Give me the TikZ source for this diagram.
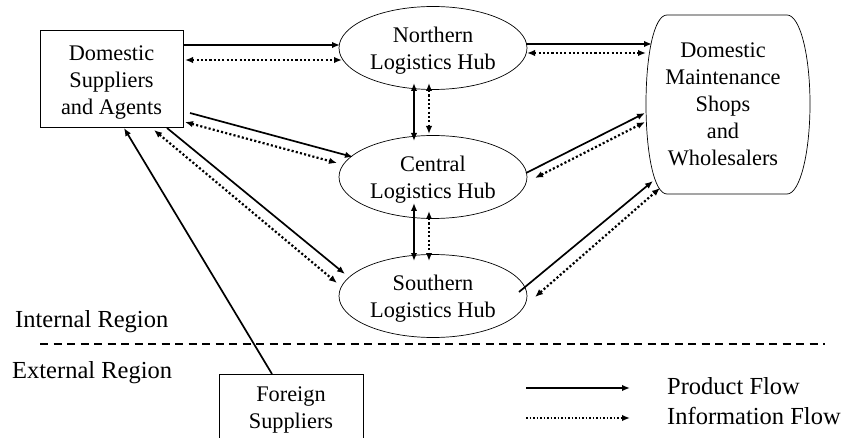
\documentclass[tikz,border=0pt]{standalone}
\usepackage{fontspec}
\setmainfont{Liberation Serif}
\usetikzlibrary{arrows.meta,shapes.geometric}
\tikzset{
  nodetext/.style={font=\fontsize{22.3}{27}\selectfont, align=center, text=black},
  labeltext/.style={font=\fontsize{24.5}{30}\selectfont, anchor=west, text=black, inner sep=0pt},
  boxnode/.style={nodetext, draw, line width=0.8pt, inner sep=0pt},
  hub/.style={nodetext, ellipse, draw, line width=0.7pt, inner sep=0pt,
              minimum width=188pt, minimum height=83pt},
  product/.style={line width=1.7pt, -{Latex[length=8pt,width=6.5pt]}},
  productboth/.style={line width=1.7pt, {Latex[length=8pt,width=6.5pt]}-{Latex[length=8pt,width=6.5pt]}},
  info/.style={line width=2.2pt, dash pattern=on 2.1pt off 2.2pt,
               {Latex[length=8pt,width=6.5pt]}-{Latex[length=8pt,width=6.5pt]}},
  infoone/.style={line width=2.2pt, dash pattern=on 2.1pt off 2.2pt,
               -{Latex[length=8pt,width=6.5pt]}},
}
\newcommand{\strutup}[1]{\rule{0pt}{#1}}
\begin{document}
\begin{tikzpicture}[x=1pt,y=-1pt]
\useasboundingbox (0,0) rectangle (845,438);

% nodes
\node[boxnode, minimum width=143pt, minimum height=97pt] (ds) at (111.5,78.5)
  {\strutup{23pt}Domestic\\Suppliers\\and Agents};
\node[hub] (nh) at (433,48) {\strutup{21pt}Northern\\Logistics Hub};
\node[hub] (ch) at (433,177) {\strutup{21pt}Central\\Logistics Hub};
\node[hub] (sh) at (433,296) {\strutup{21pt}Southern\\Logistics Hub};
\node[boxnode, minimum width=144pt, minimum height=72pt] (fs) at (291,410)
  {Foreign\\Suppliers};

% barrel-shaped outline of the maintenance shops
\draw[line width=0.7pt]
  (667,15) -- (787,15)
  .. controls (800,15) and (810,55) .. (810,104)
  .. controls (810,153) and (800,194) .. (787,194)
  -- (667,194)
  .. controls (654,194) and (646,153) .. (646,104)
  .. controls (646,55) and (654,15) .. (667,15) -- cycle;
\node[nodetext, inner sep=0pt] (dm) at (723,104)
  {Domestic\\Maintenance\\Shops\\and\\Wholesalers};

% suppliers <-> northern hub
\draw[product] ([shift={(71.5,-33.5)}]ds.center) -- ([shift={(-93,-3)}]nh.center);
\draw[info] ([shift={(73.5,-18.5)}]ds.center) -- ([shift={(-91,12)}]nh.center);
% northern hub <-> maintenance shops
\draw[product] ([shift={(93,-4)}]nh.center) -- ([shift={(-71,-60)}]dm.center);
\draw[info] ([shift={(94,5)}]nh.center) -- ([shift={(-77,-51)}]dm.center);
% hub to hub
\draw[productboth] ([shift={(-19,35)}]nh.center) -- ([shift={(-19,-36)}]ch.center);
\draw[info] ([shift={(-4,35)}]nh.center) -- ([shift={(-4,-43)}]ch.center);
\draw[productboth] ([shift={(-19,26)}]ch.center) -- ([shift={(-19,-35)}]sh.center);
\draw[info] ([shift={(-4,34)}]ch.center) -- ([shift={(-4,-35)}]sh.center);
% suppliers <-> central hub
\draw[product] ([shift={(78.5,34.5)}]ds.center) -- ([shift={(-80,-20)}]ch.center);
\draw[info] ([shift={(73.5,43.5)}]ds.center) -- ([shift={(-96,-14)}]ch.center);
% suppliers <-> southern hub
\draw[product] ([shift={(55.5,49.5)}]ds.center) -- ([shift={(-88,-22)}]sh.center);
\draw[info] ([shift={(42.5,51.5)}]ds.center) -- ([shift={(-96,-13)}]sh.center);
% foreign suppliers -> domestic suppliers
\draw[product] ([shift={(-19,-36)}]fs.center) -- ([shift={(12.5,49.5)}]ds.center);
% central hub <-> maintenance shops
\draw[product] ([shift={(93,-4)}]ch.center) -- ([shift={(-78,9)}]dm.center);
\draw[info] ([shift={(102,1)}]ch.center) -- ([shift={(-78,18)}]dm.center);
% southern hub <-> maintenance shops
\draw[product] ([shift={(86,-4)}]sh.center) -- ([shift={(-70,77)}]dm.center);
\draw[info] ([shift={(102,1)}]sh.center) -- ([shift={(-63,84)}]dm.center);

% region boundary
\coordinate (bl) at (40,344);
\coordinate (br) at (825,344);
\draw[line width=1.6pt, dash pattern=on 8pt off 5.5pt] (bl) -- (br);
\node[labeltext] (ir) at (15,322) {Internal Region};
\node[labeltext] (er) at (12,373) {External Region};

% legend
\coordinate (lp1) at (526,388);
\coordinate (lp2) at (630,388);
\coordinate (li1) at (526,418);
\coordinate (li2) at (630,418);
\draw[product] (lp1) -- (lp2);
\draw[infoone, line width=1.8pt, dash pattern=on 1.7pt off 1.8pt] (li1) -- (li2);
\node[labeltext] (lpt) at (667,386) {Product Flow};
\node[labeltext] (lit) at (667,416) {Information Flow};
\end{tikzpicture}
\end{document}
